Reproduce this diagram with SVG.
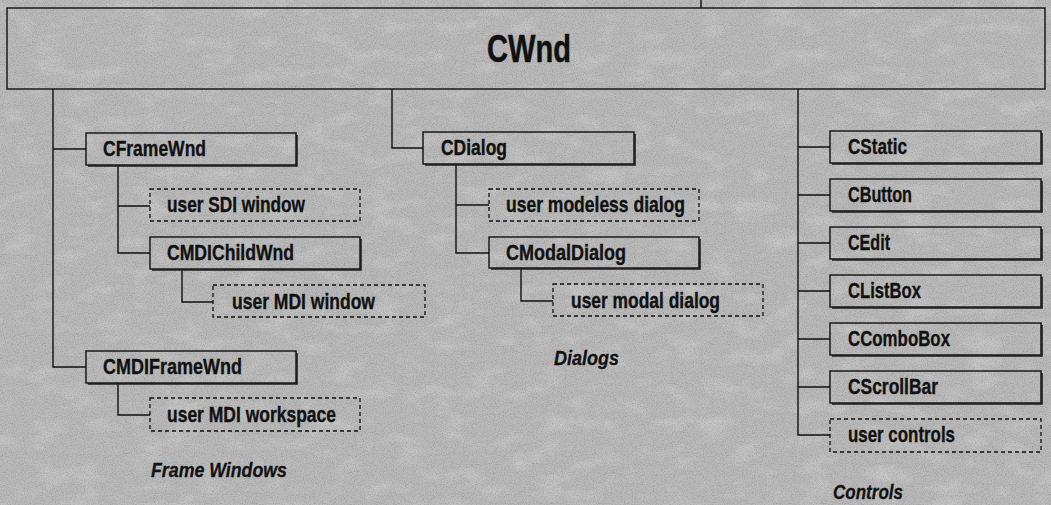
<svg xmlns="http://www.w3.org/2000/svg" width="1051" height="505" viewBox="0 0 1051 505">
  <defs>
    <filter id="grain" x="0" y="0" width="100%" height="100%">
      <feTurbulence type="fractalNoise" baseFrequency="0.9" numOctaves="2" seed="3" result="n"/>
      <feColorMatrix in="n" type="matrix" values="0 0 0 0 0  0 0 0 0 0  0 0 0 0 0  0 0 0 -1.4 0.8"/>
    </filter>
    <filter id="mottle" x="0" y="0" width="100%" height="100%">
      <feTurbulence type="fractalNoise" baseFrequency="0.03 0.06" numOctaves="3" seed="7" result="m"/>
      <feColorMatrix in="m" type="matrix" values="0 0 0 0 1  0 0 0 0 1  0 0 0 0 1  0 0 0 -1.8 0.95"/>
    </filter>
  </defs>
  <style>
    .bg { fill: #b9b9b9; }
    .box { fill: none; stroke: #111; stroke-width: 1.4; }
    .shadow { fill: none; stroke: #222; stroke-width: 1.6; }
    .user { fill: none; stroke: #111; stroke-width: 1.3; stroke-dasharray: 4 3; }
    .link { fill: none; stroke: #111; stroke-width: 1.4; }
    .t { font-family: "Liberation Sans Narrow", "Liberation Sans", Arial, sans-serif; font-weight: bold; font-size: 22px; fill: #111; stroke: #111; stroke-width: 0.35; }
    .cap { font-family: "Liberation Sans Narrow", "Liberation Sans", Arial, sans-serif; font-weight: bold; font-style: italic; font-size: 21px; fill: #111; stroke: #111; stroke-width: 0.3; }
    .root { font-family: "Liberation Sans Narrow", "Liberation Sans", Arial, sans-serif; font-weight: bold; font-size: 39px; fill: #111; stroke: #111; stroke-width: 0.5; }
  </style>

  <!-- paper background -->
  <rect class="bg" x="0" y="0" width="1051" height="505"/>
  <rect x="0" y="0" width="1051" height="505" filter="url(#mottle)" opacity="0.25"/>
  <rect x="0" y="0" width="1051" height="505" filter="url(#grain)" opacity="0.22"/>

  <!-- connectors -->
  <g id="connectors">
    <path class="link" d="M701,0 V8"/>
    <!-- frame windows -->
    <path class="link" d="M53,89 V367 H86 M53,149 H86"/>
    <path class="link" d="M118,165 V253 H150 M118,206 H150"/>
    <path class="link" d="M182,269 V302 H213"/>
    <path class="link" d="M118,383 V415 H150"/>
    <!-- dialogs -->
    <path class="link" d="M392,89 V148 H423"/>
    <path class="link" d="M456,164 V253 H489 M456,205 H489"/>
    <path class="link" d="M521,268 V301 H553"/>
    <!-- controls -->
    <path class="link" d="M798,89 V435 H830 M798,147 H830 M798,195 H830 M798,243 H830 M798,291 H830 M798,339 H830 M798,387 H830"/>
  </g>

  <g id="CWnd">
    <rect class="box" x="7" y="8" width="1038" height="81"/>
    <text class="root" x="487" y="62" textLength="84" lengthAdjust="spacingAndGlyphs">CWnd</text>
  </g>

  <!-- frame windows -->
  <g id="CFrameWnd">
    <path class="shadow" d="M297,135 V166 H88"/>
    <rect class="box" x="86" y="133" width="210" height="32"/>
    <text class="t" x="103" y="156" textLength="103" lengthAdjust="spacingAndGlyphs">CFrameWnd</text>
  </g>
  <g id="userSDIWindow">
    <rect class="user" x="150" y="189" width="210" height="32"/>
    <text class="t" x="167" y="212" textLength="138" lengthAdjust="spacingAndGlyphs">user SDI window</text>
  </g>
  <g id="CMDIChildWnd">
    <path class="shadow" d="M361,239 V270 H152"/>
    <rect class="box" x="150" y="237" width="210" height="32"/>
    <text class="t" x="167" y="260" textLength="127" lengthAdjust="spacingAndGlyphs">CMDIChildWnd</text>
  </g>
  <g id="userMDIWindow">
    <rect class="user" x="213" y="285" width="212" height="32"/>
    <text class="t" x="232" y="309" textLength="143" lengthAdjust="spacingAndGlyphs">user MDI window</text>
  </g>
  <g id="CMDIFrameWnd">
    <path class="shadow" d="M297,353 V384 H88"/>
    <rect class="box" x="86" y="351" width="210" height="32"/>
    <text class="t" x="103" y="374" textLength="139" lengthAdjust="spacingAndGlyphs">CMDIFrameWnd</text>
  </g>
  <g id="userMDIWorkspace">
    <rect class="user" x="150" y="398" width="210" height="33"/>
    <text class="t" x="167" y="422" textLength="169" lengthAdjust="spacingAndGlyphs">user MDI workspace</text>
  </g>
  <g id="frameWindowsLabel">
    <text class="cap" x="151" y="477" textLength="136" lengthAdjust="spacingAndGlyphs">Frame Windows</text>
  </g>

  <!-- dialogs -->
  <g id="CDialog">
    <path class="shadow" d="M635,134 V165 H425"/>
    <rect class="box" x="423" y="132" width="211" height="32"/>
    <text class="t" x="441" y="155" textLength="66" lengthAdjust="spacingAndGlyphs">CDialog</text>
  </g>
  <g id="userModelessDialog">
    <rect class="user" x="489" y="189" width="210" height="32"/>
    <text class="t" x="506" y="212" textLength="179" lengthAdjust="spacingAndGlyphs">user modeless dialog</text>
  </g>
  <g id="CModalDialog">
    <path class="shadow" d="M700,239 V269 H491"/>
    <rect class="box" x="489" y="237" width="210" height="31"/>
    <text class="t" x="506" y="260" textLength="120" lengthAdjust="spacingAndGlyphs">CModalDialog</text>
  </g>
  <g id="userModalDialog">
    <rect class="user" x="553" y="284" width="210" height="32"/>
    <text class="t" x="571" y="308" textLength="149" lengthAdjust="spacingAndGlyphs">user modal dialog</text>
  </g>
  <g id="dialogsLabel">
    <text class="cap" x="554" y="365" textLength="65" lengthAdjust="spacingAndGlyphs">Dialogs</text>
  </g>

  <!-- controls -->
  <g id="CStatic">
    <path class="shadow" d="M1042,133 V164 H832"/>
    <rect class="box" x="830" y="131" width="211" height="32"/>
    <text class="t" x="848" y="154" textLength="59" lengthAdjust="spacingAndGlyphs">CStatic</text>
  </g>
  <g id="CButton">
    <path class="shadow" d="M1042,181 V212 H832"/>
    <rect class="box" x="830" y="179" width="211" height="32"/>
    <text class="t" x="848" y="202" textLength="64" lengthAdjust="spacingAndGlyphs">CButton</text>
  </g>
  <g id="CEdit">
    <path class="shadow" d="M1042,229 V260 H832"/>
    <rect class="box" x="830" y="227" width="211" height="32"/>
    <text class="t" x="848" y="250" textLength="42" lengthAdjust="spacingAndGlyphs">CEdit</text>
  </g>
  <g id="CListBox">
    <path class="shadow" d="M1042,277 V308 H832"/>
    <rect class="box" x="830" y="275" width="211" height="32"/>
    <text class="t" x="848" y="298" textLength="73" lengthAdjust="spacingAndGlyphs">CListBox</text>
  </g>
  <g id="CComboBox">
    <path class="shadow" d="M1042,325 V356 H832"/>
    <rect class="box" x="830" y="323" width="211" height="32"/>
    <text class="t" x="848" y="346" textLength="102" lengthAdjust="spacingAndGlyphs">CComboBox</text>
  </g>
  <g id="CScrollBar">
    <path class="shadow" d="M1042,373 V404 H832"/>
    <rect class="box" x="830" y="371" width="211" height="32"/>
    <text class="t" x="848" y="394" textLength="90" lengthAdjust="spacingAndGlyphs">CScrollBar</text>
  </g>
  <g id="userControls">
    <rect class="user" x="830" y="419" width="211" height="33"/>
    <text class="t" x="848" y="442" textLength="107" lengthAdjust="spacingAndGlyphs">user controls</text>
  </g>
  <g id="controlsLabel">
    <text class="cap" x="833" y="499" textLength="70" lengthAdjust="spacingAndGlyphs">Controls</text>
  </g>
</svg>
